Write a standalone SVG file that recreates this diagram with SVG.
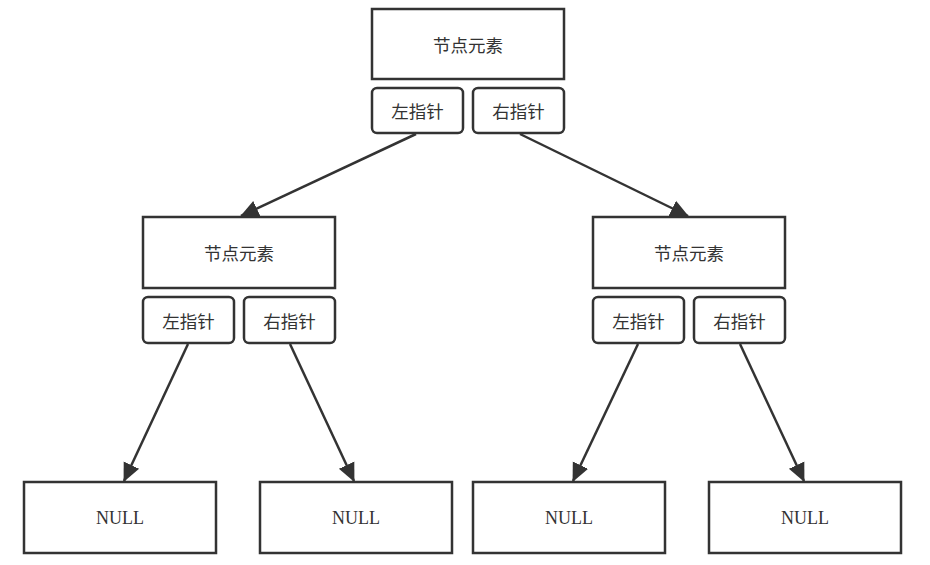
<svg xmlns="http://www.w3.org/2000/svg" width="930" height="565" viewBox="0 0 930 565">
<style>
.box{fill:#fff;stroke:#333;stroke-width:2.5}
.ptr{fill:#fff;stroke:#333;stroke-width:2.5}
.cn{font-family:"Noto Sans CJK SC","Noto Sans",sans-serif;font-size:17.5px;fill:#333;text-anchor:middle;dominant-baseline:central}
.en{font-family:"Liberation Serif",serif;font-size:18px;fill:#333;text-anchor:middle;dominant-baseline:central}
.edge{stroke:#333;stroke-width:2.5;fill:none;marker-end:url(#arr)}
</style>
<defs>
<marker id="arr" markerWidth="8" markerHeight="8" refX="7" refY="4" orient="auto" markerUnits="strokeWidth" viewBox="0 0 8 8">
<path d="M0,0.6 L7.4,4 L0,7.4 Z" fill="#333"/>
</marker>
</defs>
<rect width="930" height="565" fill="#fff"/>
<g id="root">
<rect class="box" x="372" y="9" width="192" height="70"/>
<text class="cn" x="468" y="44">节点元素</text>
<rect class="ptr" x="372" y="88" width="91" height="45" rx="5"/>
<text class="cn" x="417.5" y="110.5">左指针</text>
<rect class="ptr" x="473" y="88" width="91" height="45" rx="5"/>
<text class="cn" x="518.5" y="110.5">右指针</text>
</g>
<g id="left">
<rect class="box" x="143" y="217" width="192" height="71"/>
<text class="cn" x="239" y="252.5">节点元素</text>
<rect class="ptr" x="143" y="297" width="91" height="46" rx="5"/>
<text class="cn" x="188.5" y="320">左指针</text>
<rect class="ptr" x="244" y="297" width="91" height="46" rx="5"/>
<text class="cn" x="289.5" y="320">右指针</text>
</g>
<g id="right">
<rect class="box" x="593" y="217" width="192" height="71"/>
<text class="cn" x="689" y="252.5">节点元素</text>
<rect class="ptr" x="593" y="297" width="91" height="46" rx="5"/>
<text class="cn" x="638.5" y="320">左指针</text>
<rect class="ptr" x="694" y="297" width="91" height="46" rx="5"/>
<text class="cn" x="739.5" y="320">右指针</text>
</g>
<g id="null1"><rect class="box" x="24" y="482" width="192" height="71"/><text class="en" x="120" y="517.5">NULL</text></g>
<g id="null2"><rect class="box" x="260" y="482" width="192" height="71"/><text class="en" x="356" y="517.5">NULL</text></g>
<g id="null3"><rect class="box" x="473" y="482" width="192" height="71"/><text class="en" x="569" y="517.5">NULL</text></g>
<g id="null4"><rect class="box" x="709" y="482" width="192" height="71"/><text class="en" x="805" y="517.5">NULL</text></g>
<g id="connectors">
<line class="edge" x1="416" y1="134" x2="241" y2="216"/>
<line class="edge" x1="520" y1="134" x2="688" y2="216"/>
<line class="edge" x1="188" y1="344" x2="124" y2="481"/>
<line class="edge" x1="290" y1="344" x2="354" y2="481"/>
<line class="edge" x1="638" y1="344" x2="573" y2="481"/>
<line class="edge" x1="740" y1="344" x2="804" y2="481"/>
</g>
</svg>
